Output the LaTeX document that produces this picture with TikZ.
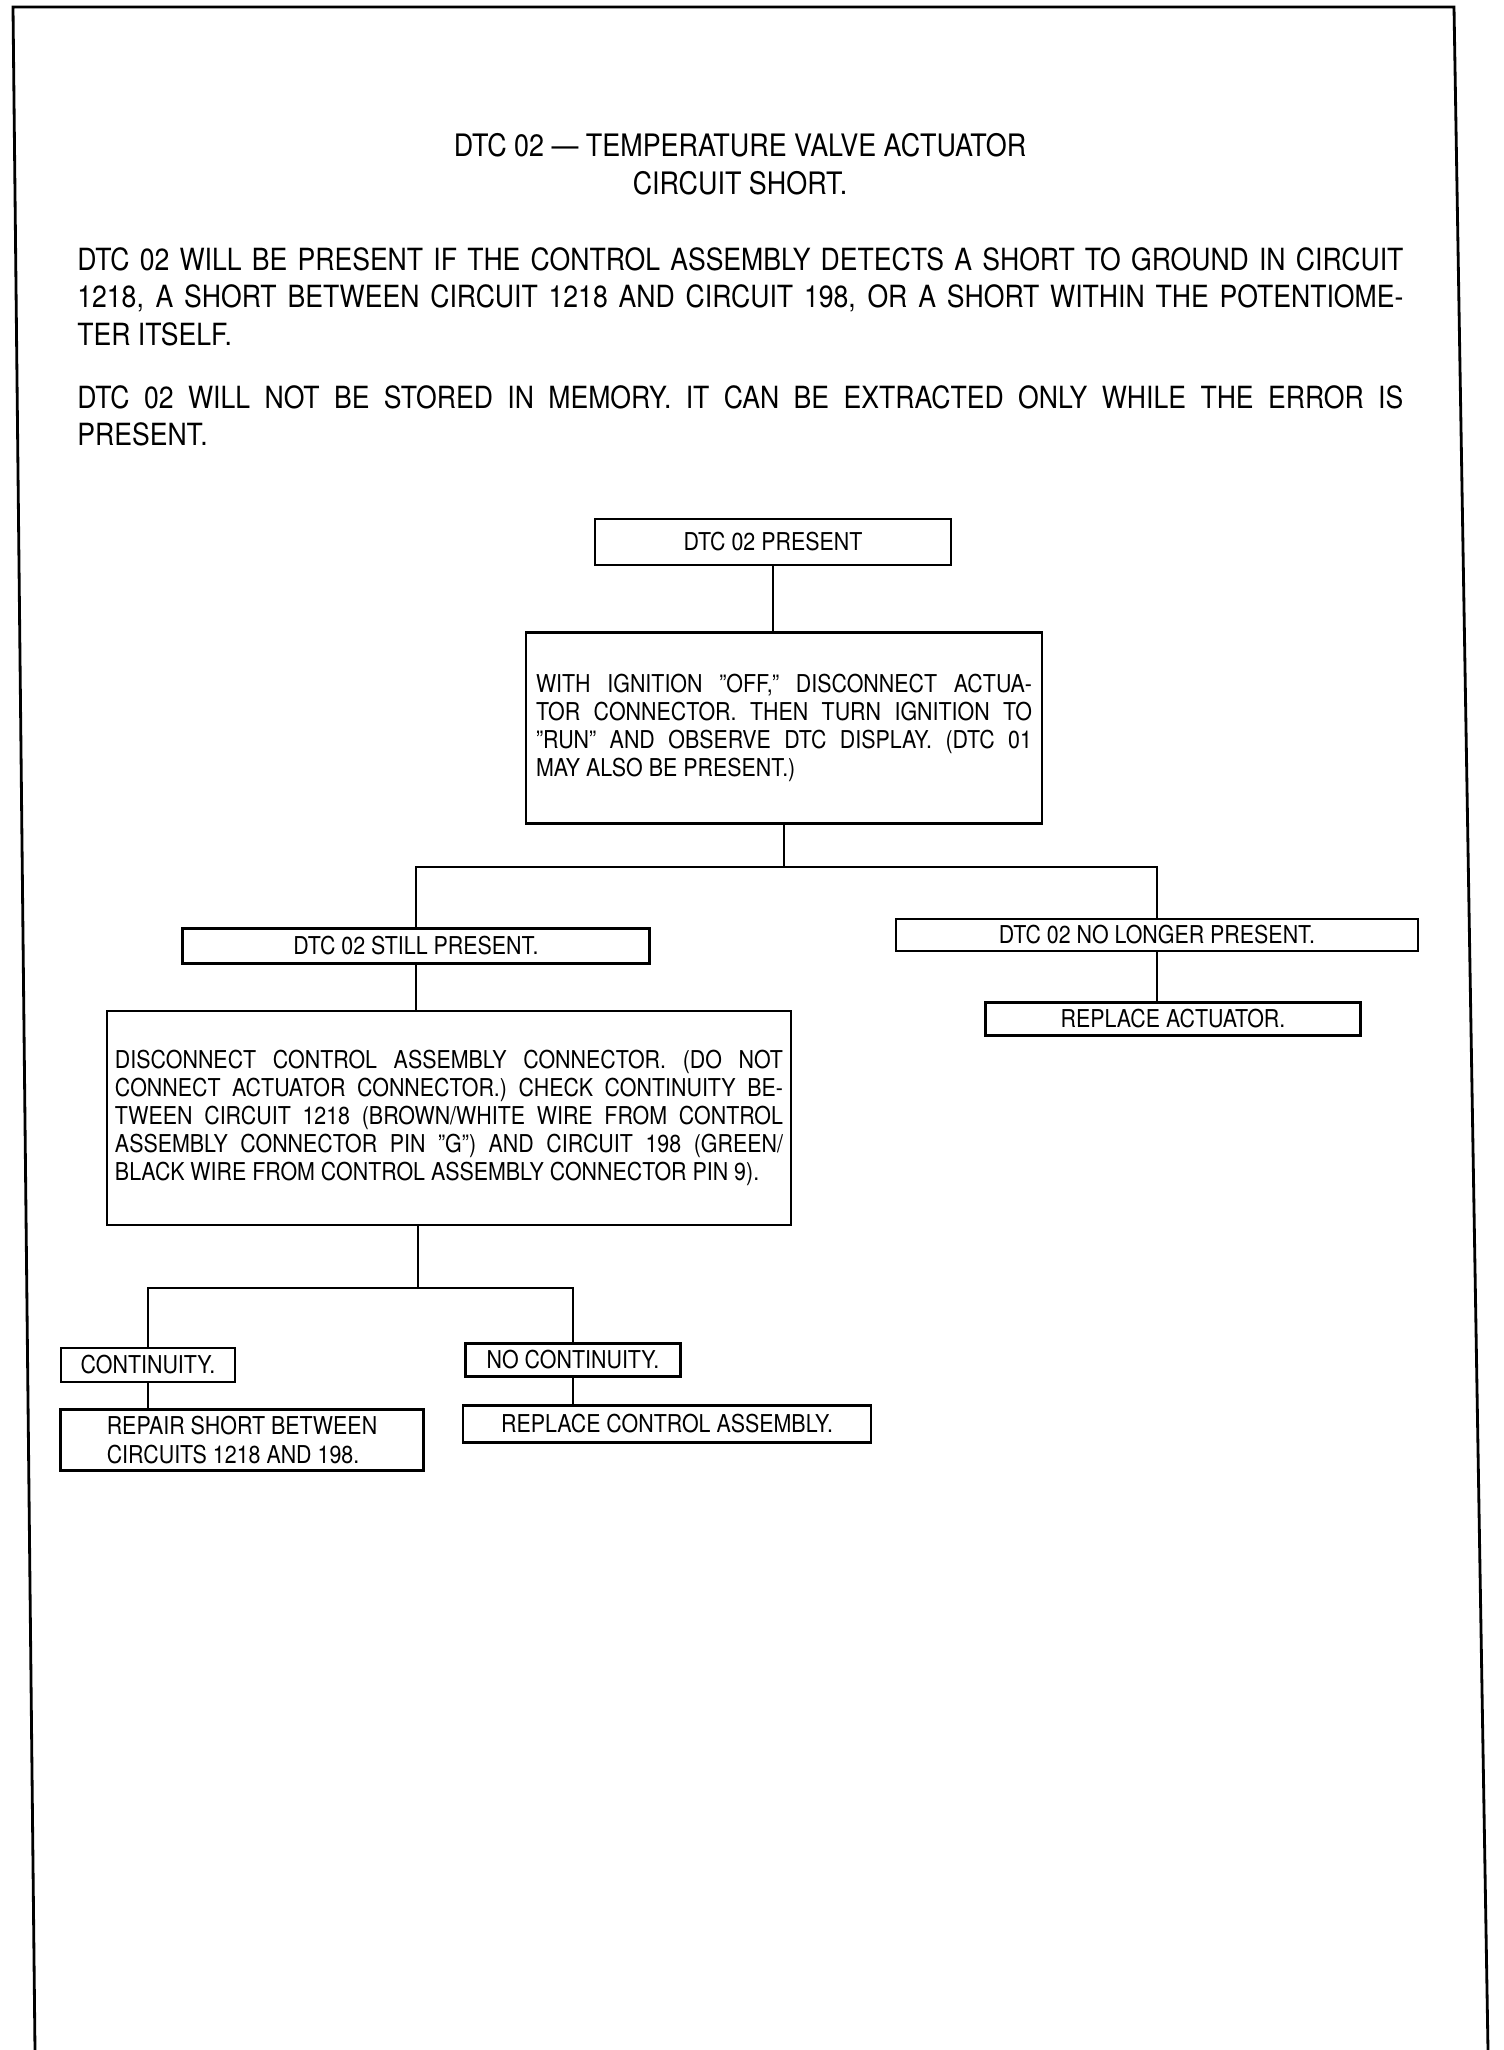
\documentclass[tikz,border=0pt]{standalone}
\usepackage{fontspec}
\setmainfont{TeX Gyre Heros}[FakeStretch=0.87]
\usetikzlibrary{positioning}
\tolerance=9999
\hyphenpenalty=10000

\begin{document}
\begin{tikzpicture}[x=0.2mm,y=-0.2mm,
    box/.style={draw,line width=1.3pt,inner sep=2pt,
                font=\fontsize{14}{16}\selectfont},
    jtext/.style={align=justify,font=\fontsize{14}{15.9}\selectfont},
    note/.style={anchor=north west,inner sep=0pt,text width=265.2mm,align=justify,
                 font=\fontsize{17.4}{21.3}\selectfont},
    wire/.style={line width=1.1pt}]
    \useasboundingbox (0,0) rectangle (1504,2050);
    % page frame, open at the foot
    \draw[line width=1.6pt] (35,2050) -- (13,7) -- (1454,7) -- (1488,2050);
    % heading and notes
    \node[align=center,font=\fontsize{17.6}{21.6}\selectfont] (title) at (740,164)
        {DTC 02 --- TEMPERATURE VALVE ACTUATOR\\CIRCUIT SHORT.};
    \node[note] (note1) at (77,247)
        {DTC 02 WILL BE PRESENT IF THE CONTROL ASSEMBLY DETECTS A SHORT TO GROUND IN CIRCUIT\linebreak
         1218, A SHORT BETWEEN CIRCUIT 1218 AND CIRCUIT 198, OR A SHORT WITHIN THE POTENTIOME-\linebreak
         TER ITSELF.};
    \node[note] (note2) at (77,385)
        {DTC 02 WILL NOT BE STORED IN MEMORY. IT CAN BE EXTRACTED ONLY WHILE THE ERROR IS\linebreak
         PRESENT.};
    % flow chart
    \node[box,minimum width=71.2mm,minimum height=9.2mm] (b1) at (773,542) {DTC 02 PRESENT};
    \node[box,jtext,text width=99.2mm,minimum width=103.2mm,minimum height=38.2mm] (b2) at (784,728)
        {WITH IGNITION ''OFF,'' DISCONNECT ACTUA-\linebreak
         TOR CONNECTOR. THEN TURN IGNITION TO\linebreak
         ''RUN'' AND OBSERVE DTC DISPLAY. (DTC 01\linebreak
         MAY ALSO BE PRESENT.)};
    \node[box,minimum width=93.4mm,minimum height=7mm] (b3) at (416,946) {DTC 02 STILL PRESENT.};
    \node[box,minimum width=104.4mm,minimum height=6.4mm] (b4) at (1157,935) {DTC 02 NO LONGER PRESENT.};
    \node[box,minimum width=75mm,minimum height=6.6mm] (b5) at (1173,1019) {REPLACE ACTUATOR.};
    \node[box,jtext,text width=133.6mm,minimum width=136.8mm,minimum height=42.8mm] (b6) at (449,1118)
        {DISCONNECT CONTROL ASSEMBLY CONNECTOR. (DO NOT\linebreak
         CONNECT ACTUATOR CONNECTOR.) CHECK CONTINUITY BE-\linebreak
         TWEEN CIRCUIT 1218 (BROWN/WHITE WIRE FROM CONTROL\linebreak
         ASSEMBLY CONNECTOR PIN ''G'') AND CIRCUIT 198 (GREEN/\linebreak
         BLACK WIRE FROM CONTROL ASSEMBLY CONNECTOR PIN 9).};
    \node[box,minimum width=34.8mm,minimum height=6.8mm] (b7) at (148,1365) {CONTINUITY.};
    \node[box,align=left,minimum width=72.6mm,minimum height=12.2mm] (b8) at (242,1440)
        {REPAIR SHORT BETWEEN\\CIRCUITS 1218 AND 198.};
    \node[box,minimum width=43mm,minimum height=6.6mm] (b9) at (573,1360) {NO CONTINUITY.};
    \node[box,minimum width=81.6mm,minimum height=7.4mm] (b10) at (667,1424) {REPLACE CONTROL ASSEMBLY.};
    \coordinate (j1) at (784,867);
    \coordinate (j2) at (418,1288);
    \draw[wire] (b1) -- (b1 |- b2.north);
    \draw[wire] (b2.south) -- (j1);
    \draw[wire] (b3.north) |- (j1) -| (b4.north);
    \draw[wire] (b4) -- (b4 |- b5.north);
    \draw[wire] (b3) -- (b3 |- b6.north);
    \draw[wire] (b6.south -| j2) -- (j2);
    \draw[wire] (b7.north) |- (j2) -| (b9.north);
    \draw[wire] (b7) -- (b7 |- b8.north);
    \draw[wire] (b9) -- (b9 |- b10.north);
\end{tikzpicture}
\end{document}
